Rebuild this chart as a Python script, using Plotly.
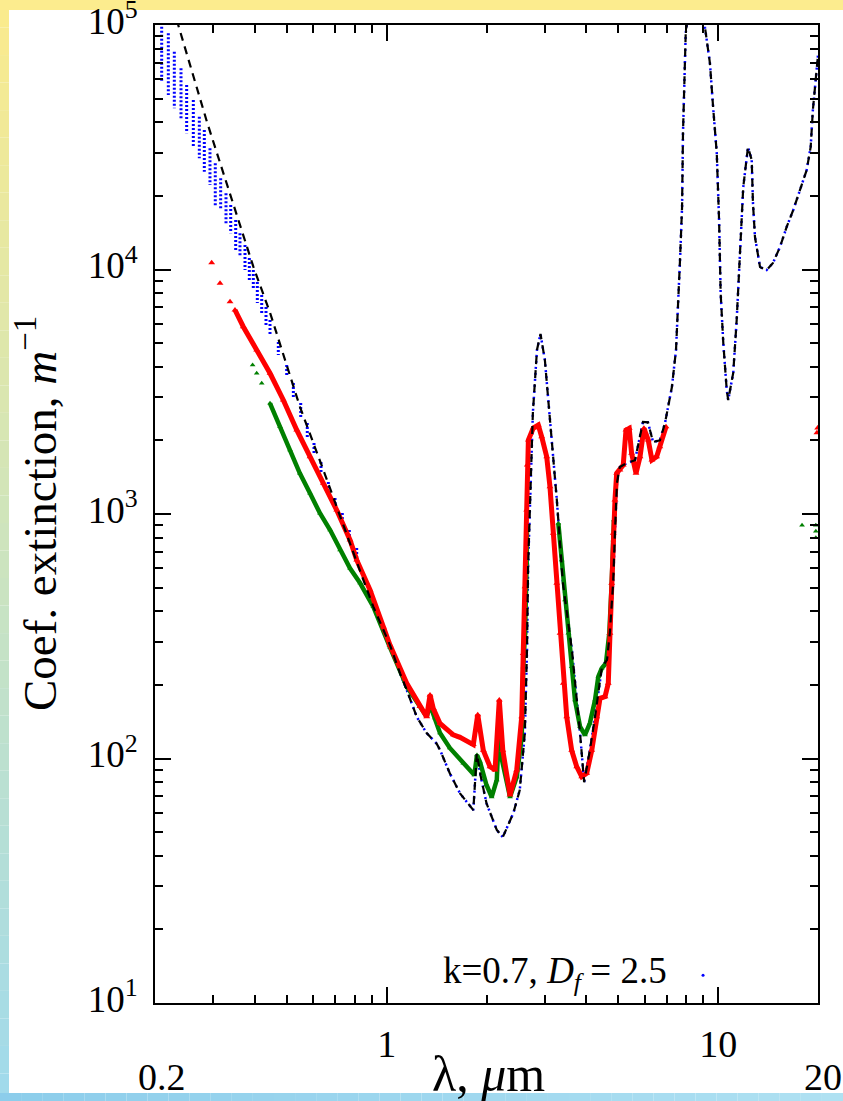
import numpy as np
import plotly.graph_objects as go

# ---------------- data ----------------
black_x = [0.20, 0.235, 0.287, 0.356, 0.396, 0.445, 0.511, 0.547, 0.644, 0.723, 0.814, 0.911,
           1.0, 1.023, 1.097, 1.149, 1.232, 1.32, 1.415, 1.45, 1.55, 1.664, 1.825, 1.87, 1.92, 2.0,
           2.148, 2.24, 2.41, 2.52, 2.61, 2.65, 2.67, 2.71, 2.76, 2.84, 2.91, 3.00, 3.13, 3.26,
           3.40, 3.62, 3.83, 3.94, 4.10, 4.25, 4.46, 4.62, 4.71, 4.82, 4.88, 4.95, 5.05, 5.31,
           5.61, 5.93, 6.14, 6.36, 6.67, 6.91, 7.25, 7.46, 7.67, 7.78, 7.83, 7.93, 7.98, 8.4,
           8.9, 9.12, 9.44, 9.65, 9.90, 10.06, 10.17, 10.36, 10.61, 10.72, 11.1, 11.37, 11.64,
           11.9, 12.3, 12.62, 12.73, 12.91, 13.37, 14.0, 14.63, 15.36, 16.09, 16.84, 17.65,
           18.49, 19.01, 19.3, 20.0]
black_y = [197000, 100000, 40100, 16240, 10270, 6640, 3643, 2750, 1514, 975, 631, 418,
           314, 291, 223, 191, 148, 127, 115, 108, 87, 72, 61.5, 105, 85, 65.6,
           51, 47.7, 59.8, 74.3, 127, 278, 607, 1140, 2590, 4690, 5450, 4265, 2140, 1140,
           522, 278, 127, 80, 108, 148, 237, 253, 326, 522, 836, 1340, 1557, 1617,
           1660, 2380, 2370, 1970, 2000, 2355, 3306, 4690, 10940, 18030, 36150, 63680, 92700, 160000,
           150000, 98000, 69900, 46300, 29960, 15940, 8020, 5000, 3215, 2925, 3775, 6215, 11680,
           21730, 31700, 28040, 18720, 13580, 10240, 9950, 10640, 12370, 14930, 17510, 21150,
           25530, 31700, 44900, 75300]

# blue scatter in the short-wave part: vertical clusters (x, top, bottom)
blue_uv_x = [0.2095, 0.2194, 0.2287, 0.2396, 0.2492, 0.261, 0.2721, 0.2817, 0.293, 0.304,
             0.3156, 0.3275, 0.3384, 0.3503, 0.3609, 0.3737, 0.3851, 0.3959, 0.4071, 0.4197,
             0.4324, 0.4446, 0.471, 0.4992, 0.5229, 0.5503, 0.576, 0.6035, 0.6335, 0.6666,
             0.6983, 0.7346, 0.7713, 0.8118]
blue_uv_top = [98400, 92500, 77770, 66510, 56840, 49350, 42170, 37210, 31310, 27200,
               23600, 20490, 18360, 15940, 14060, 12600, 11140, 9950, 8890, 7865,
               7025, 6215, 5052, 4068, 3435, 2844, 2356, 1952, 1632, 1352,
               1163, 1010, 860, 726]
blue_uv_bot = [58620, 51720, 45630, 40880, 36070, 31780, 28500, 25120, 22160, 18070,
               17800, 15450, 14060, 12020, 11280, 9950, 9060, 8245, 7295, 6515,
               5930, 5397, 4470, 3634, 3009, 2493, 2065, 1777, 1472, 1254,
               1068, 919, 783, 649]

red_x = [0.2965, 0.3142, 0.3368, 0.3486, 0.3693, 0.4053, 0.4446, 0.4876, 0.5352, 0.587,
         0.644, 0.7065, 0.775, 0.8118, 0.8906, 0.977, 1.023, 1.149, 1.26, 1.32, 1.351,
         1.382, 1.448, 1.588, 1.664, 1.825, 1.882, 1.956, 2.049, 2.122, 2.186, 2.24,
         2.355, 2.467, 2.554, 2.582, 2.614, 2.644, 2.655, 2.675, 2.768, 2.866, 2.934,
         3.038, 3.108, 3.18, 3.258, 3.333, 3.41, 3.492, 3.614, 3.742, 3.875, 4.012,
         4.155, 4.30, 4.40, 4.556, 4.66, 4.716, 4.772, 4.825, 4.882, 4.94, 5.054, 5.17,
         5.27, 5.39, 5.48, 5.65, 5.81, 5.97, 6.15, 6.31, 6.52, 6.67, 6.96]
red_y = [10660, 8783, 7385, 6830, 5835, 4690, 3763, 2926, 2206, 1716,
         1335, 1038, 783, 649, 489, 345, 291, 203, 163, 148, 182,
         160, 139, 125, 122, 114, 151, 108, 92.6, 89.7, 173.5, 108,
         70.9, 89.7, 148, 269, 504, 1038, 1586, 2007, 2247, 2312, 2071,
         1716, 1293, 834, 521, 325, 203, 148, 108, 92.6, 84.3, 87.0,
         108, 148, 176, 179, 203, 325, 521, 834, 1141, 1467, 1514, 1586,
         2206, 2241, 1772, 1467, 1716, 2241, 2007, 1663, 1716, 1885, 2275]
red_edge_x = [19.85, 19.95]
red_edge_y = [2150, 2250]

green_x = [0.394, 0.4053, 0.4197, 0.4446, 0.4766, 0.511, 0.547, 0.587, 0.629, 0.675,
           0.723, 0.775, 0.831, 0.911, 1.023, 1.149, 1.26, 1.32, 1.351, 1.398, 1.448,
           1.55, 1.702, 1.838, 1.872, 1.912, 2.0, 2.074, 2.148, 2.181, 2.227, 2.355,
           2.467, 2.554, 2.582, 2.614, 2.644, 2.65, None,
           3.294, 3.372, 3.45, 3.53, 3.614, 3.698, 3.83, 3.964, 4.10, 4.25, 4.348,
           4.452, 4.586, 4.693, 4.772, 4.825, 4.848]
green_y = [4068, 3763, 3425, 2836, 2275, 1827, 1467, 1215, 1007, 860,
           712, 600, 522, 418, 285, 197, 163, 148, 165.5, 146.4, 127.2,
           110.4, 95.6, 85.6, 103.3, 96.8, 77.9, 69.6, 81.7, 130.8, 98.6, 69.6,
           84, 122.4, 236.7, 326, 630, 885, None,
           916, 648, 445, 325, 237.4, 173.5, 134.9, 124.8, 139.3, 173.5, 216.1,
           233.8, 245.1, 325, 521, 783, 945]
green_edge_x = [17.9, 19.7, 19.7, 19.7]
green_edge_y = [900, 900, 850, 800]

legend_dot_x = [9.0]
legend_dot_y = [13.0]

x_tick_vals = [1, 10]
x_tick_text = ["1", "10"]
x_minor_vals = [0.3, 0.4, 0.5, 0.6, 0.7, 0.8, 0.9, 2, 3, 4, 5, 6, 7, 8, 9, 20]
y_tick_vals = [10, 100, 1000, 10000, 100000]
y_tick_text = ["10<sup>1</sup>", "10<sup>2</sup>", "10<sup>3</sup>", "10<sup>4</sup>", "10<sup>5</sup>"]
y_minor_vals = [k * 10 ** d for d in range(1, 5) for k in range(2, 10)]

edge_labels = ["0.2", "20"]

# ---------------- figure ----------------
W, H = 843, 1101
L, R, T, B = 155, 25, 25, 98
PW, PH = W - L - R, H - T - B
FONT = "Liberation Serif"

fig = go.Figure()

# blue: clusters in UV region, drawn as vertical dotted streaks
bx, by = [], []
for x, t, b in zip(blue_uv_x, blue_uv_top, blue_uv_bot):
    bx += [x, x, None]
    by += [t, b, None]
fig.add_trace(go.Scatter(x=bx, y=by, mode="lines",
                         line=dict(color="#0000FF", width=3, dash="2px,2px"),
                         hoverinfo="skip", showlegend=False))
# blue: rest follows the black curve
blue_x = [x for x in black_x if x >= 0.86]
blue_y = [y for x, y in zip(black_x, black_y) if x >= 0.86]
fig.add_trace(go.Scatter(x=blue_x, y=blue_y, mode="lines",
                         line=dict(color="#0000FF", width=2.5, dash="2px,4px"),
                         showlegend=False))

# green
fig.add_trace(go.Scatter(x=green_x[3:], y=green_y[3:], mode="lines",
                         line=dict(color="#008000", width=4.5), connectgaps=False,
                         showlegend=False))
fig.add_trace(go.Scatter(x=green_x + green_edge_x, y=green_y + green_edge_y, mode="markers",
                         marker=dict(symbol="triangle-up", size=5, color="#008000"),
                         showlegend=False))
# red
fig.add_trace(go.Scatter(x=red_x[3:], y=red_y[3:], mode="lines",
                         line=dict(color="#FF0000", width=5), showlegend=False))
fig.add_trace(go.Scatter(x=red_x + red_edge_x, y=red_y + red_edge_y, mode="markers",
                         marker=dict(symbol="triangle-up", size=6, color="#FF0000"),
                         showlegend=False))
# black dashed
fig.add_trace(go.Scatter(x=black_x, y=black_y, mode="lines",
                         line=dict(color="black", width=2.2, dash="8px,6px"),
                         showlegend=False))
# legend sample dot
fig.add_trace(go.Scatter(x=legend_dot_x, y=legend_dot_y, mode="markers",
                         marker=dict(symbol="circle", size=3, color="#0000FF"),
                         showlegend=False))

# ---------- background strips (slide frame) ----------
def px2paper_x(px):
    return (px - L) / PW

def py2paper_y(py):
    return (H - B - py) / PH

def lerp(c1, c2, t):
    return "rgb(%d,%d,%d)" % tuple(round(a + (b - a) * t) for a, b in zip(c1, c2))

shapes = []
yellow = (251, 235, 140)
green_mid = (205, 228, 190)
cyan = (160, 218, 236)
n = 40
for i in range(n):
    y0p, y1p = i * H / n, (i + 1) * H / n
    t = (i + 0.5) / n
    c = lerp(yellow, green_mid, t / 0.5) if t < 0.5 else lerp(green_mid, cyan, (t - 0.5) / 0.5)
    shapes.append(dict(type="rect", xref="paper", yref="paper", layer="below",
                       x0=px2paper_x(0), x1=px2paper_x(9), y0=py2paper_y(y1p), y1=py2paper_y(y0p),
                       fillcolor=c, line=dict(width=0)))
shapes.append(dict(type="rect", xref="paper", yref="paper", layer="below",
                   x0=px2paper_x(0), x1=px2paper_x(W), y0=py2paper_y(10), y1=py2paper_y(0),
                   fillcolor="rgb(252,236,142)", line=dict(width=0)))
for i in range(n):
    x0p, x1p = i * W / n, (i + 1) * W / n
    t = (i + 0.5) / n
    c = lerp((140, 205, 235), (175, 225, 242), t)
    shapes.append(dict(type="rect", xref="paper", yref="paper", layer="below",
                       x0=px2paper_x(x0p), x1=px2paper_x(x1p), y0=py2paper_y(H), y1=py2paper_y(1093),
                       fillcolor=c, line=dict(width=0)))

annotations = [
    dict(text=edge_labels[0], x=px2paper_x(162), y=py2paper_y(1077), xref="paper", yref="paper",
         showarrow=False, font=dict(family=FONT, size=38, color="black"), xanchor="center", yanchor="middle"),
    dict(text=edge_labels[1], x=px2paper_x(823), y=py2paper_y(1077), xref="paper", yref="paper",
         showarrow=False, font=dict(family=FONT, size=38, color="black"), xanchor="center", yanchor="middle"),
    dict(text="λ, <i>μ</i>m", x=px2paper_x(488), y=py2paper_y(1074), xref="paper", yref="paper",
         showarrow=False, font=dict(family=FONT, size=50, color="black"), xanchor="center", yanchor="middle"),
    dict(text="Coef. extinction, <i>m</i><sup>−1</sup>", x=px2paper_x(36), y=py2paper_y(514),
         xref="paper", yref="paper", textangle=-90, showarrow=False,
         font=dict(family=FONT, size=47, color="black"), xanchor="center", yanchor="middle"),
    dict(text="k=0.7, <i>D<sub>f</sub></i> = 2.5", x=px2paper_x(555), y=py2paper_y(973),
         xref="paper", yref="paper", showarrow=False,
         font=dict(family=FONT, size=37, color="black"), xanchor="center", yanchor="middle"),
]

axis_common = dict(type="log", showline=True, linewidth=2, linecolor="black", mirror="allticks",
                   ticks="inside", tickwidth=2, tickcolor="black", showgrid=False, zeroline=False,
                   ticklabeloverflow="allow")

fig.update_xaxes(**axis_common, range=[np.log10(0.2), np.log10(20)], tickmode="array",
                 tickvals=x_tick_vals, ticktext=x_tick_text, ticklen=16, ticklabelstandoff=6,
                 tickfont=dict(family=FONT, size=38, color="black"),
                 minor=dict(tickmode="array", tickvals=x_minor_vals, ticks="inside", ticklen=8,
                            tickwidth=1.5, tickcolor="black", showgrid=False))
fig.update_yaxes(**axis_common, range=[0.99999, 5.00001], tickmode="array", tickvals=y_tick_vals,
                 ticktext=y_tick_text, ticklen=16, ticklabelstandoff=8, ticklabelshift=-4,
                 tickfont=dict(family=FONT, size=37, color="black"),
                 minor=dict(tickmode="array", tickvals=y_minor_vals, ticks="inside", ticklen=8,
                            tickwidth=1.5, tickcolor="black", showgrid=False))

fig.update_layout(width=W, height=H, margin=dict(l=L, r=R, t=T, b=B, autoexpand=False),
                  paper_bgcolor="white", plot_bgcolor="white", shapes=shapes,
                  annotations=annotations, showlegend=False)

fig.write_html("out.html")
